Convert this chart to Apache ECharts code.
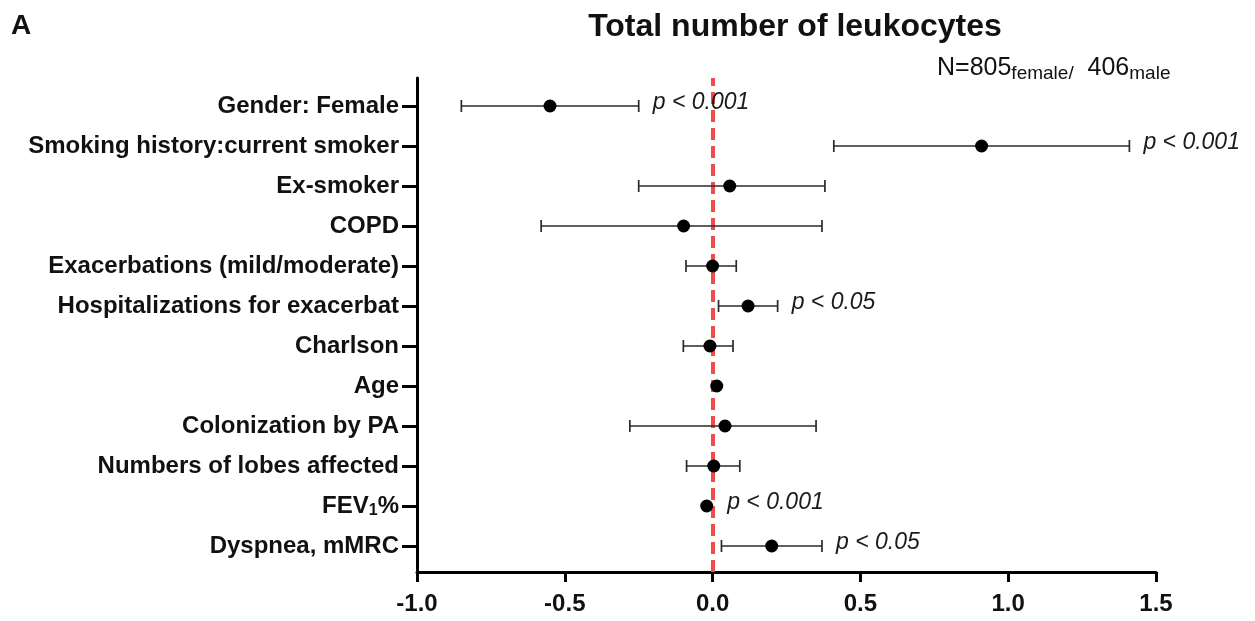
<!DOCTYPE html>
<html>
<head>
<meta charset="utf-8">
<script src="https://cdn.jsdelivr.net/npm/echarts@6/dist/echarts.min.js"></script>
<style>
  html, body { margin: 0; padding: 0; background: #fff; }
  #chart { width: 1255px; height: 621px; }
</style>
</head>
<body>
<div id="chart"></div>
<script>
// Predictors of the total leukocyte count: estimate with 95% CI
const categories = [
  'Gender: Female',
  'Smoking history:current smoker',
  'Ex-smoker',
  'COPD',
  'Exacerbations (mild/moderate)',
  'Hospitalizations for exacerbat',
  'Charlson',
  'Age',
  'Colonization by PA',
  'Numbers of lobes affected',
  'FEV1%',
  'Dyspnea, mMRC'
];
const estimates = [-0.55, 0.91, 0.058, -0.098, 0.0, 0.12, -0.009, 0.014, 0.042, 0.004, -0.02, 0.2];
const ciLower   = [-0.85, 0.41, -0.25, -0.58, -0.09, 0.02, -0.099, 0.009, -0.28, -0.088, -0.025, 0.03];
const ciUpper   = [-0.25, 1.41, 0.38, 0.37, 0.08, 0.22, 0.069, 0.019, 0.35, 0.092, -0.015, 0.37];
const pLabels   = ['p < 0.001', 'p < 0.001', '', '', '', 'p < 0.05', '', '', '', '', 'p < 0.001', 'p < 0.05'];
const xTicks    = [-1.0, -0.5, 0.0, 0.5, 1.0, 1.5];

const FONT = "'Liberation Sans', Arial, Helvetica, sans-serif";

const rows = categories.map((c, i) => [ciLower[i], ciUpper[i], estimates[i], i]);

function renderRow(params, api) {
  const lo = api.value(0), hi = api.value(1), est = api.value(2), idx = api.value(3);
  const label = pLabels[params.dataIndex];
  const pLo = api.coord([lo, idx]);
  const pHi = api.coord([hi, idx]);
  const pEst = api.coord([est, idx]);
  const cap = 6, r = 6.5;
  const lineStyle = { stroke: '#2a2a2a', lineWidth: 1.7 };
  const children = [
    { type: 'line', shape: { x1: pLo[0], y1: pLo[1], x2: pHi[0], y2: pHi[1] }, style: lineStyle },
    { type: 'line', shape: { x1: pLo[0], y1: pLo[1] - cap, x2: pLo[0], y2: pLo[1] + cap }, style: lineStyle },
    { type: 'line', shape: { x1: pHi[0], y1: pHi[1] - cap, x2: pHi[0], y2: pHi[1] + cap }, style: lineStyle },
    { type: 'circle', shape: { cx: pEst[0], cy: pEst[1], r: r }, style: { fill: '#000' } }
  ];
  if (label) {
    const xStart = Math.max(pHi[0], pEst[0] + r) + 14;
    children.push({
      type: 'text',
      style: {
        text: label, x: xStart, y: pEst[1] - 3,
        font: 'italic 23px ' + FONT, fill: '#1a1a1a',
        verticalAlign: 'middle', align: 'left'
      }
    });
  }
  return { type: 'group', children: children };
}

const chart = echarts.init(document.getElementById('chart'));
chart.setOption({
  animation: false,
  backgroundColor: '#fff',
  title: {
    text: 'Total number of leukocytes',
    left: 790, top: 6, textAlign: 'center',
    textStyle: { fontFamily: FONT, fontWeight: 'bold', fontSize: 32, color: '#111' }
  },
  graphic: [
    {
      type: 'text', left: 11, top: 12,
      style: { text: 'A', font: 'bold 28px ' + FONT, fill: '#111' }
    },
    {
      type: 'text', left: 937, top: 56,
      style: {
        text: 'N=805{s|female/}  406{s|male}',
        font: '25px ' + FONT, fill: '#111',
        rich: {
          s: { fontSize: 19, fontFamily: FONT, fill: '#111', verticalAlign: 'bottom', padding: [10, 0, 0, 0] }
        }
      }
    }
  ],
  grid: [
    { left: 417, right: 99, top: 78, bottom: 49 },
    { left: 417, right: 99, top: 86, bottom: 55 }
  ],
  xAxis: [
    {
      gridIndex: 0, type: 'value', min: -1, max: 1.5, interval: 0.5,
      axisLine: { show: true, onZero: false, lineStyle: { color: '#000', width: 3 } },
      axisTick: { show: true, length: 10, lineStyle: { color: '#000', width: 3 } },
      axisLabel: {
        margin: 20, fontFamily: FONT, fontWeight: 'bold', fontSize: 24, color: '#111',
        formatter: v => v.toFixed(1)
      },
      splitLine: { show: false }
    },
    {
      gridIndex: 1, type: 'value', min: -1, max: 1.5, show: false
    }
  ],
  yAxis: [
    {
      gridIndex: 0, type: 'value', min: 0, max: 1,
      axisLine: { show: true, onZero: false, lineStyle: { color: '#000', width: 3 } },
      axisTick: { show: false }, axisLabel: { show: false }, splitLine: { show: false }
    },
    {
      gridIndex: 1, type: 'category', data: categories, inverse: true,
      axisLine: { show: false, onZero: false },
      axisTick: { show: true, alignWithLabel: true, length: 15, lineStyle: { color: '#000', width: 3 } },
      axisLabel: {
        margin: 18, fontFamily: FONT, fontWeight: 'bold', fontSize: 24, color: '#111',
        formatter: v => v === 'FEV1%' ? 'FEV{sub|1}%' : v,
        rich: {
          sub: { fontFamily: FONT, fontWeight: 'bold', fontSize: 16, color: '#111', verticalAlign: 'bottom', padding: [10, 0, 0, 0] }
        }
      },
      splitLine: { show: false }
    }
  ],
  series: [
    {
      // reference line at zero effect
      type: 'line', xAxisIndex: 0, yAxisIndex: 0, data: [], silent: true,
      markLine: {
        symbol: 'none', silent: true, label: { show: false },
        lineStyle: { color: '#f24b4b', width: 4, type: [12, 6] },
        data: [{ xAxis: 0 }]
      }
    },
    {
      type: 'custom', xAxisIndex: 1, yAxisIndex: 1,
      renderItem: renderRow,
      encode: { x: [0, 1, 2], y: 3 },
      data: rows,
      z: 5
    }
  ]
});
</script>
</body>
</html>
